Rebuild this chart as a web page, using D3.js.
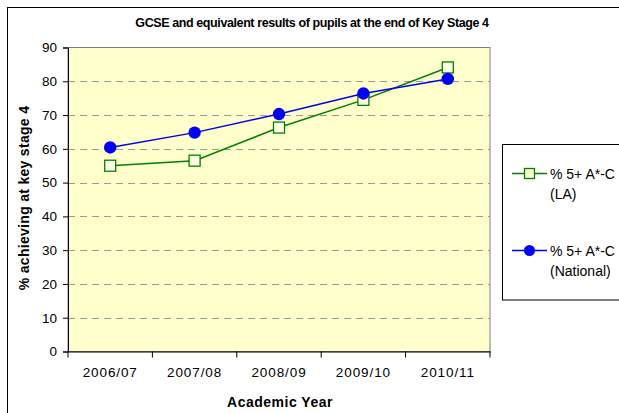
<!DOCTYPE html>
<html><head><meta charset="utf-8">
<script src="https://cdn.jsdelivr.net/npm/d3@7"></script>
<style>body{margin:0;background:#fff}svg{display:block;font-family:"Liberation Sans",Arial,sans-serif}</style>
</head><body>
<svg id="c" width="619" height="413"></svg>
<script>
const categories = ["2006/07","2007/08","2008/09","2009/10","2010/11"];
const laValues = [55.0, 56.5, 66.3, 74.5, 84.1];
const nationalValues = [60.4, 64.8, 70.3, 76.4, 80.7];
const yTicks = [0,10,20,30,40,50,60,70,80,90];
const seriesNames = ["% 5+ A*-C|(LA)", "% 5+ A*-C|(National)"];

const svg = d3.select("#c");
// outer chart border
svg.append("rect").attr("x",7.5).attr("y",7.5).attr("width",640).attr("height",420)
  .attr("fill","#fff").attr("stroke","#000").attr("stroke-width",1);

const L=68, R=490, T=47.5, B=351.5;
const x = d3.scaleBand().domain(categories).range([L,R]).paddingInner(0).paddingOuter(0);
const y = d3.scaleLinear().domain([0,90]).range([B,T]);

svg.append("rect").attr("x",L).attr("y",T).attr("width",R-L).attr("height",B-T)
  .attr("fill","#FFFFCC").attr("stroke","#808080").attr("stroke-width",1);

// grid
svg.append("g").selectAll("line").data(yTicks.filter(d=>d>0&&d<90)).join("line")
  .attr("x1",L).attr("x2",R).attr("y1",d=>Math.round(y(d))+0.5).attr("y2",d=>Math.round(y(d))+0.5)
  .attr("stroke","#999").attr("stroke-dasharray","7,5").attr("stroke-width",1);

// y axis
const yAxis = d3.axisLeft(y).tickValues(yTicks).tickSize(5).tickPadding(6);
const gy = svg.append("g").attr("transform",`translate(${L},0)`).call(yAxis);
gy.select(".domain").attr("stroke","#000");
gy.selectAll(".tick line").attr("stroke","#000");
gy.selectAll("text").attr("font-size",13.5).attr("fill","#000");

// x axis
const xAxis = d3.axisBottom(x).tickSize(0).tickPadding(16);
const gx = svg.append("g").attr("transform",`translate(0,${B})`).call(xAxis);
gx.select(".domain").attr("stroke","#000");
gx.selectAll("text").attr("font-size",13.5).attr("letter-spacing",0.9).attr("fill","#000");
const bounds = categories.map(c=>x(c)).concat([R]);
gx.selectAll(".bt").data(bounds).join("line").attr("class","bt")
  .attr("x1",d=>d).attr("x2",d=>d).attr("y1",0).attr("y2",6).attr("stroke","#000");

const cx = c=>x(c)+x.bandwidth()/2;
const line = d3.line().x((d,i)=>cx(categories[i])).y(d=>y(d));

// LA series
svg.append("path").datum(laValues).attr("d",line).attr("fill","none").attr("stroke","#008000").attr("stroke-width",1.5);
svg.append("g").selectAll("rect").data(laValues).join("rect")
  .attr("x",(d,i)=>cx(categories[i])-5.5).attr("y",d=>y(d)-5.5).attr("width",11).attr("height",11)
  .attr("fill","#FFFFE8").attr("stroke","#008000").attr("stroke-width",1.3);

// National series
svg.append("path").datum(nationalValues).attr("d",line).attr("fill","none").attr("stroke","#0000FF").attr("stroke-width",1.5);
svg.append("g").selectAll("circle").data(nationalValues).join("circle")
  .attr("cx",(d,i)=>cx(categories[i])).attr("cy",d=>y(d)).attr("r",6.2).attr("fill","#0000FF");

// title
svg.append("text").attr("x",312).attr("y",27).attr("text-anchor","middle")
  .attr("font-size",12.5).attr("font-weight","bold").attr("letter-spacing",-0.4)
  .text("GCSE and equivalent results of pupils at the end of Key Stage 4");
// axis titles
svg.append("text").attr("transform","translate(29,198) rotate(-90)").attr("text-anchor","middle")
  .attr("font-size",14).attr("font-weight","bold").attr("letter-spacing",0.3).text("% achieving at key stage 4");
svg.append("text").attr("x",280).attr("y",407).attr("text-anchor","middle")
  .attr("font-size",14).attr("font-weight","bold").attr("letter-spacing",0.5).text("Academic Year");

// legend
svg.append("rect").attr("x",502.5).attr("y",144.5).attr("width",140).attr("height",155.5)
  .attr("fill","#fff").attr("stroke","#000").attr("stroke-width",1);
const lg = [{c:"#008000",y:173.5,t:seriesNames[0],sq:true},{c:"#0000FF",y:250.5,t:seriesNames[1],sq:false}];
lg.forEach(s=>{
  svg.append("line").attr("x1",512).attr("x2",547).attr("y1",s.y).attr("y2",s.y).attr("stroke",s.c).attr("stroke-width",1.5);
  if(s.sq) svg.append("rect").attr("x",524.5).attr("y",s.y-5).attr("width",10).attr("height",10)
    .attr("fill","#FFFFCC").attr("stroke",s.c).attr("stroke-width",1.3);
  else svg.append("circle").attr("cx",529.5).attr("cy",s.y).attr("r",5.5).attr("fill",s.c);
  const parts = s.t.split("|");
  const t = svg.append("text").attr("font-size",14).attr("fill","#000");
  t.append("tspan").attr("x",550).attr("y",s.y+5).text(parts[0]);
  t.append("tspan").attr("x",550).attr("y",s.y+25).text(parts[1]);
});
</script>
</body></html>
